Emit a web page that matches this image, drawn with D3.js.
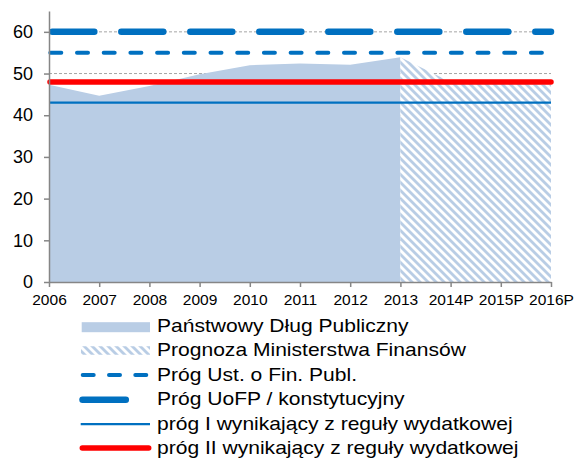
<!DOCTYPE html>
<html><head><meta charset="utf-8">
<script src="https://cdn.jsdelivr.net/npm/d3@7"></script>
<style>body{margin:0;background:#fff}svg{display:block}</style>
</head><body>
<svg id="chart" width="574" height="458"></svg>
<script>
// ---- data ----
const categories = ["2006","2007","2008","2009","2010","2011","2012","2013","2014P","2015P","2016P"];
const actualCategories = ["2006","2007","2008","2009","2010","2011","2012","2013"];
const debtActual = [47.3, 44.7, 47.0, 49.8, 52.0, 52.4, 52.1, 53.9];
const forecastCategories = ["2013","2014P","2015P","2016P"];
const debtForecast = [53.9, 48.0, 47.6, 47.3];
const thresholdUoFP = 60;
const thresholdUst = 55;
const thresholdRuleI = 43;
const thresholdRuleII = 48;
const yTicks = [0, 10, 20, 30, 40, 50, 60];
const yMax = 65;
const legendLabels = [
  "Państwowy Dług Publiczny",
  "Prognoza Ministerstwa Finansów",
  "Próg Ust. o Fin. Publ.",
  "Próg UoFP / konstytucyjny",
  "próg I wynikający z reguły wydatkowej",
  "próg II wynikający z reguły wydatkowej"
];

// ---- setup ----
const FONT = "'Liberation Sans', Arial, sans-serif";
const BLUE = "#0070C0", RED = "#FF0000", FILL = "#B9CDE5", AXIS = "#868686";
const svg = d3.select("#chart");
const x = d3.scalePoint().domain(categories).range([49, 551]);
const y = d3.scaleLinear().domain([0, yMax]).range([282, 11]);

const defs = svg.append("defs");
const pat = defs.append("pattern").attr("id", "hatch").attr("patternUnits", "userSpaceOnUse")
  .attr("width", 8).attr("height", 8);
pat.append("rect").attr("width", 8).attr("height", 8).attr("fill", "#fff");
pat.append("path").attr("d", "M0,0 L4,0 L8,4 L8,8 Z M0,4 L4,8 L0,8 Z").attr("fill", FILL);

const x0 = x(categories[0]), x1 = x(categories[categories.length - 1]);

// gridlines
svg.append("g").selectAll("line").data(yTicks.filter(d => d > 0)).join("line")
  .attr("x1", x0).attr("x2", x1).attr("y1", d => y(d)).attr("y2", d => y(d))
  .attr("stroke", "#A6A6A6").attr("stroke-width", 1).attr("stroke-dasharray", "3,2");

// areas
const area = d3.area().x(d => x(d[0])).y0(y(0)).y1(d => y(d[1]));
svg.append("path").datum(d3.zip(actualCategories, debtActual)).attr("d", area).attr("fill", FILL);
svg.append("path").datum(d3.zip(forecastCategories, debtForecast)).attr("d", area).attr("fill", "url(#hatch)");

// threshold lines
function hline(v, w, color, dash, start, cap) {
  svg.append("line").attr("x1", start).attr("x2", x1).attr("y1", y(v)).attr("y2", y(v))
    .attr("stroke", color).attr("stroke-width", w).attr("stroke-linecap", cap || "butt")
    .attr("stroke-dasharray", dash || null);
}
hline(thresholdRuleI, 2.2, BLUE, null, x0, "butt");
hline(thresholdRuleII, 5.5, RED, null, x0 + 1, "round");
hline(thresholdUst, 4, BLUE, "11,15.7", 50.3, "round");
hline(thresholdUoFP, 6.5, BLUE, "42,27", 52.3, "round");

// axes
const yAxis = svg.append("g").attr("transform", `translate(${x0},0)`)
  .call(d3.axisLeft(y).tickValues(yTicks).tickSizeInner(5).tickSizeOuter(0).tickPadding(11));
yAxis.selectAll("text").attr("font-family", FONT).attr("font-size", 18).attr("fill", "#000");

const xAxis = svg.append("g").attr("transform", `translate(0,${y(0)})`)
  .call(d3.axisBottom(x).tickSizeInner(5).tickSizeOuter(0));
xAxis.selectAll("text").attr("font-family", FONT).attr("font-size", 14).attr("fill", "#000")
  .attr("y", 13.5).attr("transform", "scale(1.11,1)");

[yAxis, xAxis].forEach(a => {
  a.select(".domain").attr("stroke", AXIS).attr("stroke-width", 1.5);
  a.selectAll(".tick line").attr("stroke", AXIS).attr("stroke-width", 1.5);
});

// legend
const lg = svg.append("g");
const rowY = i => 331.7 + i * 24.55;
legendLabels.forEach((label, i) => {
  const b = rowY(i);
  const ly = b - 5.7;
  if (i === 0) lg.append("rect").attr("x", 81.7).attr("y", b - 9.5).attr("width", 68.3).attr("height", 10).attr("fill", FILL);
  if (i === 1) lg.append("rect").attr("x", 81).attr("y", b - 10).attr("width", 69).attr("height", 8.5).attr("fill", "url(#hatch)");
  if (i === 2) lg.append("line").attr("x1", 82.7).attr("x2", 146.3).attr("y1", ly).attr("y2", ly)
      .attr("stroke", BLUE).attr("stroke-width", 4).attr("stroke-linecap", "round").attr("stroke-dasharray", "11,15.3");
  if (i === 3) lg.append("line").attr("x1", 82.5).attr("x2", 125.8).attr("y1", ly).attr("y2", ly)
      .attr("stroke", BLUE).attr("stroke-width", 6.5).attr("stroke-linecap", "round");
  if (i === 4) lg.append("line").attr("x1", 80.7).attr("x2", 150).attr("y1", ly).attr("y2", ly)
      .attr("stroke", BLUE).attr("stroke-width", 2.2);
  if (i === 5) lg.append("line").attr("x1", 82.3).attr("x2", 148.7).attr("y1", ly - 0.8).attr("y2", ly - 0.8)
      .attr("stroke", RED).attr("stroke-width", 5.5).attr("stroke-linecap", "round");
  lg.append("g").attr("transform", `translate(157,${b})`)
    .append("text").attr("transform", "scale(1.17,1)")
    .attr("font-family", FONT).attr("font-size", 18).attr("fill", "#000").text(label);
});
</script>
</body></html>
